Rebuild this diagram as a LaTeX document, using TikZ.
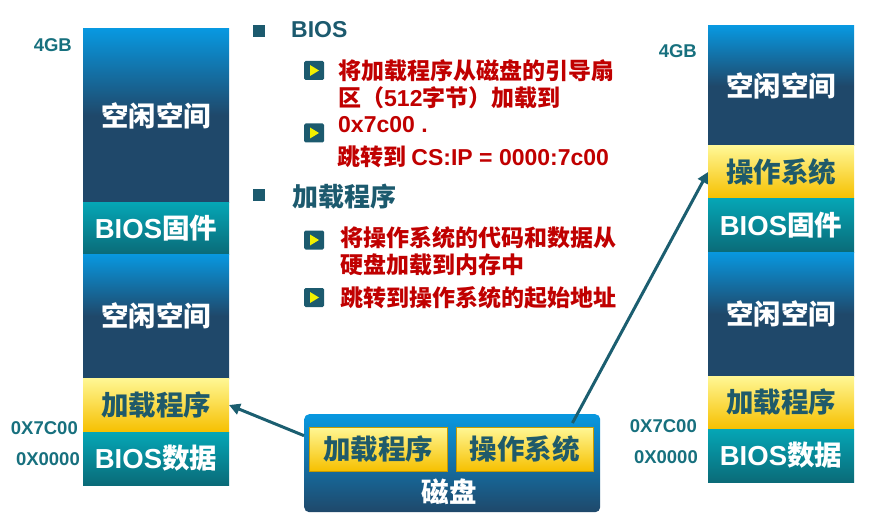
\documentclass[tikz,border=0pt]{standalone}
\usepackage{fontspec}
\setmainfont{Noto Sans CJK SC}
\newfontfamily\lat{Liberation Sans}
\usetikzlibrary{calc,arrows.meta}

\definecolor{freeTop}{HTML}{0898E0}
\definecolor{freeBot}{HTML}{1F486A}
\definecolor{fwTop}{HTML}{05A6B6}
\definecolor{fwBot}{HTML}{0A6B78}
\definecolor{ylTop}{HTML}{FFF795}
\definecolor{ylBot}{HTML}{F6C000}
\definecolor{ylText}{HTML}{1F5A6A}
\definecolor{addrTeal}{HTML}{17707E}
\definecolor{headTeal}{HTML}{1C5A6E}
\definecolor{bodyRed}{HTML}{C00000}
\definecolor{arrTeal}{HTML}{1B5E70}
\definecolor{triYellow}{HTML}{F2F000}

\tikzset{
  block/.style={anchor=north west, inner sep=0pt, outer sep=0pt, minimum width=#1},
  blkfont/.style={font=\bfseries\fontsize{27.5}{30}\selectfont},
  freeblk/.style={block=146pt, top color=freeTop, bottom color=freeBot, middle color=freeBot,
    text=white, blkfont},
  fwblk/.style={block=146pt, top color=fwTop, bottom color=fwBot, text=white, blkfont},
  ylblk/.style={block=146pt, top color=ylTop, bottom color=ylBot, text=ylText, blkfont},
  addr/.style={anchor=east, inner sep=0pt, text=addrTeal, font=\lat\bfseries\fontsize{18.5}{22}\selectfont},
  head/.style={anchor=west, inner sep=0pt, text=headTeal, font=\bfseries\fontsize{26}{28}\selectfont},
  body/.style={anchor=west, inner sep=0pt, text=bodyRed, font=\bfseries\fontsize{23}{26}\selectfont},
  sqbullet/.style={fill=headTeal, minimum size=12pt, inner sep=0pt},
  tribox/.style={fill=headTeal, rounded corners=1.5pt, minimum width=20pt, minimum height=19pt, inner sep=0pt},
  link/.style={draw=arrTeal, line width=3pt, -{Triangle[length=11pt,width=11pt]}},
}

% triangle bullet: teal square with a yellow play mark
\newcommand{\tribullet}[3]{%
  \node[tribox] (#1) at (#2,#3) {};
  \fill[triYellow] ($(#1.center)+(-4,-5.5)$) -- ($(#1.center)+(5,0)$) -- ($(#1.center)+(-4,5.5)$) -- cycle;
}

\begin{document}
\begin{tikzpicture}[x=1pt,y=-1pt]
\useasboundingbox (0,0) rectangle (870,524);

% ---- memory map before loading ----
\node[freeblk, minimum height=173pt] (lFree1) at (83,29) {空闲空间};
\node[fwblk, minimum height=52pt] (lFw) at (83,202) {{\lat BIOS}固件};
\node[freeblk, minimum height=124pt] (lFree2) at (83,254) {空闲空间};
\node[ylblk, minimum height=54pt] (lLoad) at (83,378) {加载程序};
\node[fwblk, minimum height=53pt] (lData) at (83,432) {{\lat BIOS}数据};

\node[addr] (l4gb) at (72,45) {4GB};
\node[addr] (l7c00) at (78,428) {0X7C00};
\node[addr] (l0000) at (80,459) {0X0000};

% ---- memory map after loading ----
\node[freeblk, minimum height=120pt] (rFree1) at (708,26) {空闲空间};
\node[ylblk, minimum height=52pt] (rOS) at (708,146) {操作系统};
\node[fwblk, minimum height=54pt] (rFw) at (708,198) {{\lat BIOS}固件};
\node[freeblk, minimum height=124pt] (rFree2) at (708,252) {空闲空间};
\node[ylblk, minimum height=53pt] (rLoad) at (708,376) {加载程序};
\node[fwblk, minimum height=53pt] (rData) at (708,429) {{\lat BIOS}数据};

\node[addr] (r4gb) at (697,51) {4GB};
\node[addr] (r7c00) at (697,426) {0X7C00};
\node[addr] (r0000) at (698,457) {0X0000};

% ---- disk ----
\node[anchor=north west, inner sep=0pt, minimum width=296pt, minimum height=98pt,
      rounded corners=5pt, top color=freeTop, bottom color=freeBot] (disk) at (304,414) {};
\node[block=138pt, minimum height=44pt, top color=ylTop, bottom color=ylBot, draw=ylBot!80!black, line width=0.6pt,
      text=ylText, blkfont] (dLoad) at (309,427) {加载程序};
\node[block=137pt, minimum height=44pt, top color=ylTop, bottom color=ylBot, draw=ylBot!80!black, line width=0.6pt,
      text=ylText, blkfont] (dOS) at (456,427) {操作系统};
\node[text=white, inner sep=0pt, blkfont] (diskLbl) at (449,492) {磁盘};

% ---- notes ----
\node[sqbullet] (b1) at (259,31) {};
\node[head, font=\lat\bfseries\fontsize{23}{26}\selectfont] (h1) at (291,30) {BIOS};
\tribullet{t1}{314}{70.5}
\tribullet{t2}{314}{133}
\node[body] (n1) at (338,71) {将加载程序从磁盘的引导扇};
\node[body] (n2) at (338,98) {区（{\lat 512}字节）加载到};
\node[body] (n3) at (338,125) {\lat 0x7c00 .};
\node[body] (n4) at (337,157) {跳转到 {\lat CS:IP = 0000:7c00}};

\node[sqbullet] (b2) at (259,195) {};
\node[head] (h2) at (292,197) {加载程序};
\tribullet{t3}{314}{240}
\tribullet{t4}{314}{297.5}
\node[body] (n5) at (340,238) {将操作系统的代码和数据从};
\node[body] (n6) at (340,265) {硬盘加载到内存中};
\node[body] (n7) at (340,298) {跳转到操作系统的起始地址};

% ---- data flow ----
\draw[link] ($(disk.north west)!0.22!(disk.south west)$) -- (lLoad.east);
\draw[link] ($(dOS.north west)!0.85!(dOS.north east)+(0,-4)$) -- (rOS.west);
\end{tikzpicture}
\end{document}
